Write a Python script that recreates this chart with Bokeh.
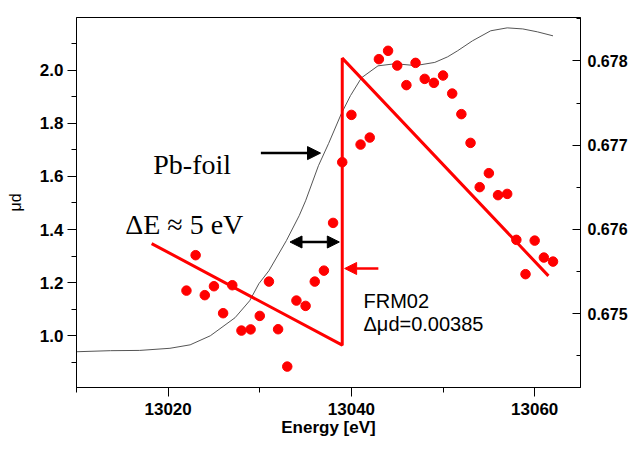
import numpy as np
from bokeh.plotting import figure
from bokeh.models import (Range1d, LinearAxis, FixedTicker, NumeralTickFormatter,
                          Label, Arrow, NormalHead)
from bokeh.embed import file_html
from bokeh.resources import INLINE

# ---- data ----
energy = [13022, 13023, 13024, 13025, 13026, 13027, 13028, 13029, 13030, 13031,
          13032, 13033, 13034, 13035, 13036, 13037, 13038, 13039, 13040, 13041,
          13042, 13043, 13044, 13045, 13046, 13047, 13048, 13049, 13050, 13051,
          13052, 13053, 13054, 13055, 13056, 13057, 13058, 13059, 13060, 13061,
          13062]
mud = [0.675275, 0.675695, 0.675221, 0.675327, 0.675007, 0.675339, 0.674801,
       0.674815, 0.674975, 0.675382, 0.674817, 0.674374, 0.675157, 0.675094,
       0.675382, 0.675512, 0.676078, 0.676798, 0.677359, 0.677007, 0.677090,
       0.678020, 0.678119, 0.677944, 0.677712, 0.677976, 0.677786, 0.677739,
       0.677826, 0.677612, 0.677368, 0.677027, 0.676502, 0.676668, 0.676407,
       0.676422, 0.675877, 0.675470, 0.675868, 0.675667, 0.675619]

foil_energy = [13010.0, 13013.7, 13016.9, 13020.2, 13022.4, 13024.6, 13027.3,
               13028.9, 13029.9, 13031.0, 13032.9, 13034.3, 13035.0, 13036.4,
               13037.5, 13038.9, 13039.9, 13041.1, 13042.9, 13044.8, 13047.0,
               13049.1, 13050.5, 13051.6, 13053.2, 13055.2, 13057.0, 13058.7,
               13060.3, 13062.0]
foil_mu = [0.940, 0.944, 0.945, 0.953, 0.966, 1.000, 1.068, 1.132, 1.196, 1.245,
           1.358, 1.452, 1.508, 1.640, 1.723, 1.836, 1.904, 1.971, 2.016, 2.024,
           2.017, 2.029, 2.050, 2.073, 2.110, 2.148, 2.159, 2.155, 2.144, 2.129]

fit_energy = [13018.2, 13039.0, 13039.0, 13061.5]
fit_mud = [0.675833, 0.674628, 0.678032, 0.675450]

x_major = [13020, 13040, 13060]
x_minor = [13010, 13030, 13050]
left_major = [1.0, 1.2, 1.4, 1.6, 1.8, 2.0]
left_minor = [0.9, 1.1, 1.3, 1.5, 1.7, 1.9, 2.1]
right_major = [0.675, 0.676, 0.677, 0.678]
right_minor = [0.6745, 0.6755, 0.6765, 0.6775, 0.6785]

# ---- figure ----
p = figure(width=630, height=442,
           x_range=Range1d(13010, 13065), y_range=Range1d(0.8054, 2.198),
           output_backend="svg", toolbar_location=None,
           min_border_left=76, min_border_top=17, min_border_right=47,
           min_border_bottom=55)
p.extra_y_ranges = {"mud": Range1d(0.674126, 0.678514)}
p.xgrid.visible = False
p.ygrid.visible = False
p.outline_line_color = "black"
p.outline_line_width = 1
p.background_fill_color = "white"
p.border_fill_color = "white"

tick_font = "Liberation Sans"

xa = p.xaxis[0]
xa.ticker = FixedTicker(ticks=x_major, minor_ticks=x_minor)
xa.major_tick_out = 9
xa.major_tick_in = 0
xa.minor_tick_out = 5
xa.minor_tick_in = 0
xa.major_label_standoff = 6
xa.major_label_text_font = tick_font
xa.major_label_text_font_style = "bold"
xa.major_label_text_font_size = "17px"
xa.major_label_text_color = "black"
xa.axis_line_color = "black"
xa.major_tick_line_color = "black"
xa.minor_tick_line_color = "black"
xa.formatter = NumeralTickFormatter(format="0")
xa.axis_label = "Energy [eV]"
xa.axis_label_standoff = 0
xa.axis_label_text_font = tick_font
xa.axis_label_text_font_style = "bold"
xa.axis_label_text_font_size = "17px"
xa.axis_label_text_color = "black"

ya = p.yaxis[0]
ya.ticker = FixedTicker(ticks=left_major, minor_ticks=left_minor)
ya.formatter = NumeralTickFormatter(format="0.0")
ya.major_tick_out = 9
ya.major_tick_in = 0
ya.minor_tick_out = 5
ya.minor_tick_in = 0
ya.major_label_standoff = 4
ya.major_label_text_font = tick_font
ya.major_label_text_font_style = "bold"
ya.major_label_text_font_size = "17px"
ya.major_label_text_color = "black"
ya.axis_line_color = "black"
ya.major_tick_line_color = "black"
ya.minor_tick_line_color = "black"
ya.axis_label = "μd"
ya.axis_label_standoff = 13
ya.axis_label_text_font = tick_font
ya.axis_label_text_font_style = "normal"
ya.axis_label_text_font_size = "16px"
ya.axis_label_text_color = "black"

ra = LinearAxis(y_range_name="mud",
                ticker=FixedTicker(ticks=right_major, minor_ticks=right_minor),
                formatter=NumeralTickFormatter(format="0.000"))
ra.major_tick_in = 8
ra.major_tick_out = 0
ra.minor_tick_in = 4
ra.minor_tick_out = 0
ra.major_label_standoff = 7
ra.major_label_text_font = tick_font
ra.major_label_text_font_style = "bold"
ra.major_label_text_font_size = "16px"
ra.major_label_text_color = "black"
ra.axis_line_color = "black"
ra.major_tick_line_color = "black"
ra.minor_tick_line_color = "black"
p.add_layout(ra, "right")

# ---- glyphs ----
p.line(foil_energy, foil_mu, line_color="#555555", line_width=1)
p.line(fit_energy, fit_mud, y_range_name="mud", line_color="#ff0000", line_width=3)
p.scatter(energy, mud, y_range_name="mud", size=9.5, fill_color="#ff0000",
          line_color="#ff0000")

# ---- annotations ----
serif = "Liberation Serif"
p.add_layout(Label(x=13018.38, y=1.6436, text="Pb-foil", text_font=serif,
                   text_font_size="28px", text_color="black",
                   text_baseline="alphabetic"))
p.add_layout(Label(x=13015.31, y=1.4204, text="ΔE ≈ 5 eV", text_font=serif,
                   text_font_size="28px", text_color="black",
                   text_baseline="alphabetic"))
p.add_layout(Label(x=13041.32, y=1.1317, text="FRM02", text_font=tick_font,
                   text_font_size="20px", text_color="black",
                   text_baseline="alphabetic"))
p.add_layout(Label(x=13041.32, y=1.0440, text="Δμd=0.00385", text_font=tick_font,
                   text_font_size="20px", text_color="black",
                   text_baseline="alphabetic"))

p.add_layout(Arrow(x_start=13030.12, y_start=1.6876, x_end=13036.63, y_end=1.6876,
                   line_color="black", line_width=2.5,
                   end=NormalHead(size=13, fill_color="black", line_color="black")))
p.add_layout(Arrow(x_start=13033.30, y_start=1.353, x_end=13038.68, y_end=1.353,
                   line_color="black", line_width=2.5,
                   start=NormalHead(size=12, fill_color="black", line_color="black"),
                   end=NormalHead(size=12, fill_color="black", line_color="black")))
p.add_layout(Arrow(x_start=13042.94, y_start=1.2533, x_end=13039.26, y_end=1.2533,
                   line_color="#ff0000", line_width=2.5,
                   end=NormalHead(size=12, fill_color="#ff0000", line_color="#ff0000")))

open("out.html", "w").write(file_html(p, INLINE))
